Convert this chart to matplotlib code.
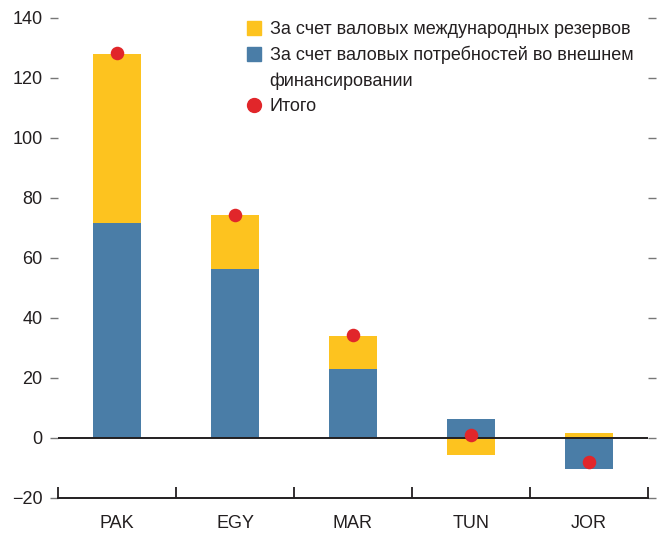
import numpy as np
import matplotlib.pyplot as plt
from matplotlib.lines import Line2D

plt.rcParams['font.family'] = ['Liberation Sans', 'DejaVu Sans']

countries = ['PAK', 'EGY', 'MAR', 'TUN', 'JOR']
reserves = [56.4, 18.0, 11.0, -5.6, 1.7]      # за счет валовых международных резервов
financing = [71.6, 56.3, 23.0, 6.3, -10.2]    # за счет потребностей во внешнем финансировании
total = [128.2, 74.5, 34.3, 1.0, -8.1]        # итого

yellow = '#FDC31F'
blue = '#4A7DA7'
red = '#E1262A'
text_color = '#231F20'

fig = plt.figure(figsize=(6.64, 5.34), dpi=100)
ax = fig.add_axes([58 / 664, 36 / 534, 590 / 664, 480 / 534])

x = np.arange(len(countries))
res = np.array(reserves)
fin = np.array(financing)

# stack positive and negative parts separately
pos_bottom = np.zeros(len(x))
neg_bottom = np.zeros(len(x))
for vals, col in [(fin, blue), (res, yellow)]:
    bottoms = np.where(vals >= 0, pos_bottom, neg_bottom)
    ax.bar(x, vals, bottom=bottoms, width=0.41, color=col, zorder=2)
    pos_bottom = pos_bottom + np.where(vals >= 0, vals, 0)
    neg_bottom = neg_bottom + np.where(vals < 0, vals, 0)

ax.axhline(0, color=text_color, linewidth=1.4, zorder=3)
ax.scatter(x, total, s=95, color=red, zorder=4, linewidths=0)

ax.set_xlim(-0.5, 4.5)
ax.set_ylim(-20, 140)
ax.set_yticks(np.arange(-20, 141, 20))
ax.set_yticklabels(['\u221220'] + [str(v) for v in range(0, 141, 20)])

for s in ['top', 'left', 'right']:
    ax.spines[s].set_visible(False)
ax.spines['bottom'].set_color(text_color)
ax.spines['bottom'].set_linewidth(1.4)

ax.tick_params(axis='y', which='major', left=True, right=True, direction='out',
               length=6, width=1, color='#777777', pad=5,
               labelsize=13, labelcolor=text_color)
ax.set_xticks(x)
ax.set_xticklabels(countries)
ax.tick_params(axis='x', which='major', length=0, pad=12, labelsize=13, labelcolor=text_color)
ax.set_xticks(np.arange(-0.5, 4.6, 1), minor=True)
ax.tick_params(axis='x', which='minor', direction='in', length=8, width=1.3, color=text_color)

# second line of the blue label gets an empty handle so the square sits on the first line
handles = [
    Line2D([], [], marker='s', linestyle='none', markersize=10, color=yellow),
    Line2D([], [], marker='s', linestyle='none', markersize=10, color=blue),
    Line2D([], [], linestyle='none'),
    Line2D([], [], marker='o', linestyle='none', markersize=10, color=red),
]
labels = ['За счет валовых международных резервов',
          'За счет валовых потребностей во внешнем',
          'финансировании',
          'Итого']
leg = ax.legend(handles, labels, loc='upper left', bbox_to_anchor=(247 / 664, 1 - 21 / 534),
                bbox_transform=fig.transFigure, frameon=False, fontsize=13,
                handlelength=0.8, handletextpad=0.45, labelspacing=0.45,
                borderpad=0, borderaxespad=0)
for t in leg.get_texts():
    t.set_color(text_color)

plt.savefig('out.png', dpi=100)
